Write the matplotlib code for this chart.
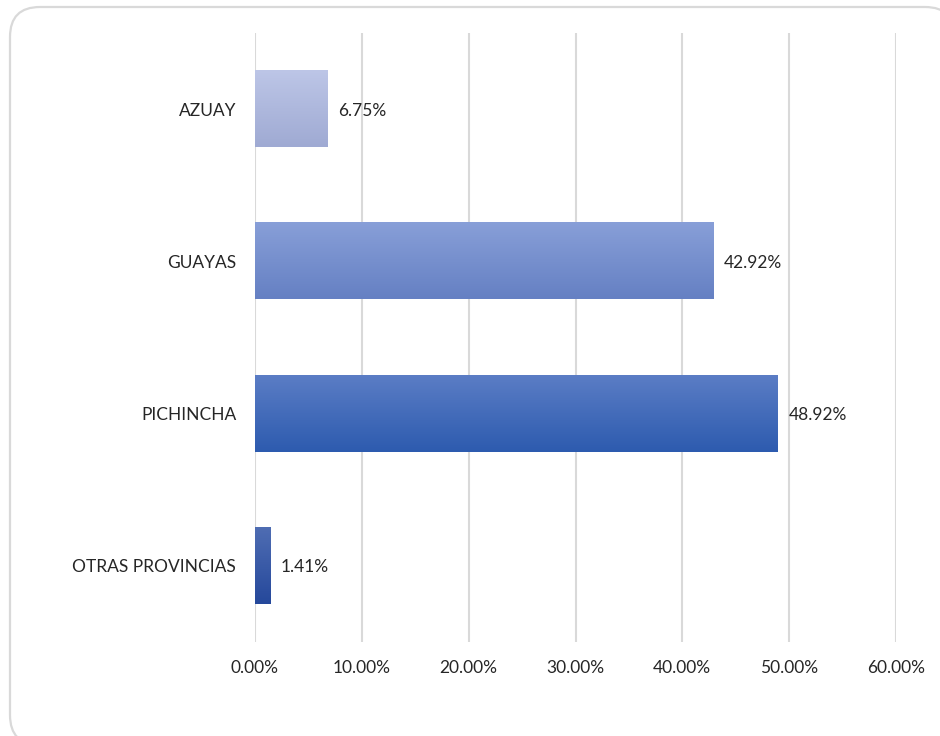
import numpy as np
import matplotlib
matplotlib.use("Agg")
import matplotlib.pyplot as plt
from matplotlib.colors import LinearSegmentedColormap
from matplotlib.patches import FancyBboxPatch
from matplotlib.transforms import IdentityTransform
from matplotlib.ticker import FuncFormatter

# data
provincias = ["AZUAY", "GUAYAS", "PICHINCHA", "OTRAS PROVINCIAS"]
porcentajes = [6.75, 42.92, 48.92, 1.41]
etiquetas = ["6.75%", "42.92%", "48.92%", "1.41%"]
x_ticks = [0, 10, 20, 30, 40, 50, 60]

# gradient colours per bar (top, bottom)
grad_top = ["#BDC6E7", "#889FD8", "#5B7DC5", "#4F6DB3"]
grad_bot = ["#9FAAD3", "#6580C3", "#2D5BAF", "#25489B"]

plt.rcParams["font.family"] = ["Lato", "DejaVu Sans"]

fig = plt.figure(figsize=(9.4, 7.36), dpi=100)
fig.patch.set_facecolor("white")

# rounded chart frame (pixel coords, runs off the right/bottom edge)
frame = FancyBboxPatch((10, -9), 945, 736 - 7 + 9,
                       boxstyle="round,pad=0,rounding_size=30",
                       transform=IdentityTransform(), facecolor="white",
                       edgecolor="#D9D9D9", linewidth=1.6, zorder=-5)
fig.patches.append(frame)

ax = fig.add_axes([255 / 940, 1 - 642 / 736, (896 - 255) / 940, (642 - 33) / 736])
ax.set_facecolor("none")

y = np.arange(len(provincias))
bar_h = 0.5

bars = ax.barh(y, porcentajes, height=bar_h, color="none", edgecolor="none", zorder=2)
grad = np.linspace(0, 1, 256).reshape(-1, 1)
for i, b in enumerate(bars):
    cmap = LinearSegmentedColormap.from_list("g%d" % i, [grad_top[i], grad_bot[i]])
    x0, y0 = b.get_x(), b.get_y()
    w, h = b.get_width(), b.get_height()
    ax.imshow(grad, cmap=cmap, aspect="auto", extent=(x0, x0 + w, y0 + h, y0),
              zorder=2, interpolation="bilinear")
    ax.text(w + 1.0, y[i] + 0.01, etiquetas[i], va="center", ha="left",
            fontsize=12.5, color="#262626", zorder=3)

ax.set_xlim(0, 60)
ax.set_ylim(len(provincias) - 0.5, -0.5)
ax.set_xticks(x_ticks)
ax.xaxis.set_major_formatter(FuncFormatter(lambda v, p: "%.2f%%" % v))
ax.set_yticks(y)
ax.set_yticklabels(provincias)
ax.grid(axis="x", color="#D9D9D9", linewidth=1.5, zorder=0)
ax.set_axisbelow(True)
for s in ax.spines.values():
    s.set_visible(False)
ax.tick_params(axis="both", length=0, labelsize=12.5, labelcolor="#262626")
ax.tick_params(axis="x", pad=13)
ax.tick_params(axis="y", pad=13.5)

fig.savefig("out.png", dpi=100, facecolor="white")
